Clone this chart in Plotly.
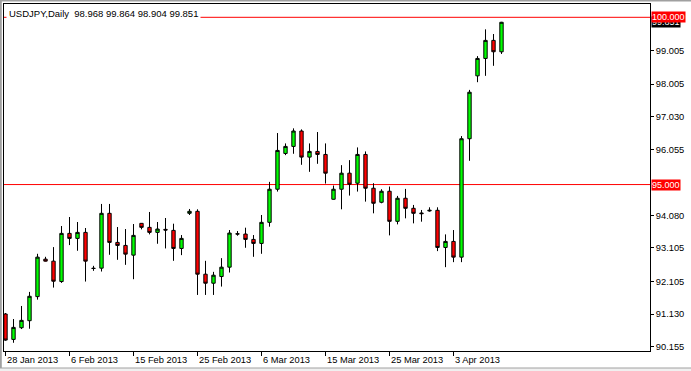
import plotly.graph_objects as go

# ---- data ----
opens = [91.13, 90.37, 90.72, 90.93, 91.65, 92.77, 92.71, 92.10, 93.54, 93.39, 93.57, 92.50, 92.50, 94.14, 93.27, 93.18,
         92.89, 93.84, 93.72, 93.57, 93.66, 93.63, 93.09, 94.14, 94.20, 92.32, 92.05, 92.25, 92.53, 93.53, 93.52, 93.36,
         93.24, 93.87, 94.86, 95.93, 96.14, 96.60, 95.82, 95.99, 95.90, 94.56, 94.86, 95.34, 95.04, 95.90, 94.89, 94.47,
         94.80, 93.90, 94.59, 94.29, 94.15, 94.21, 94.23, 93.12, 93.30, 92.83, 96.37, 98.25, 98.77, 99.31, 98.968]
highs = [91.16, 90.98, 91.37, 91.79, 92.93, 92.84, 93.13, 93.76, 94.03, 93.88, 93.70, 92.57, 94.42, 94.42, 93.73, 93.67,
         93.82, 93.85, 94.18, 93.88, 94.00, 93.83, 93.49, 94.27, 94.26, 92.72, 92.39, 92.80, 93.64, 93.61, 93.71, 93.49,
         94.09, 95.08, 96.54, 96.23, 96.68, 96.65, 96.23, 96.57, 96.23, 94.97, 95.58, 95.73, 96.11, 95.99, 95.04, 94.86,
         94.94, 94.66, 94.87, 94.39, 94.24, 94.32, 94.32, 93.51, 93.64, 96.45, 97.83, 98.84, 99.64, 99.50, 99.864]
lows = [90.33, 90.27, 90.68, 90.69, 91.56, 92.70, 91.92, 92.06, 93.19, 93.02, 92.10, 92.42, 92.40, 92.90, 92.75, 92.60,
        92.17, 93.66, 93.51, 93.23, 93.09, 92.72, 92.89, 94.09, 91.70, 91.70, 91.70, 91.95, 92.37, 93.47, 93.11, 92.84,
        92.93, 93.74, 94.79, 95.88, 95.92, 95.59, 95.38, 95.62, 95.03, 94.55, 94.26, 94.67, 94.79, 94.49, 94.14, 94.44,
        93.48, 93.81, 93.99, 93.84, 93.89, 94.19, 93.01, 92.53, 92.68, 92.68, 95.71, 98.06, 98.25, 98.55, 98.904]
closes = [90.35, 90.73, 90.94, 91.66, 92.83, 92.71, 92.11, 93.54, 93.39, 93.57, 92.71, 92.49, 94.14, 93.27, 93.18, 92.92,
          93.48, 93.72, 93.57, 93.67, 93.64, 93.09, 93.39, 94.20, 92.32, 92.05, 92.29, 92.53, 93.55, 93.52, 93.36, 93.24,
          93.87, 94.86, 96.02, 96.14, 96.60, 95.82, 95.99, 95.90, 95.34, 94.86, 95.34, 95.01, 95.90, 94.89, 94.44, 94.80,
          93.90, 94.59, 94.29, 94.14, 94.13, 94.23, 93.12, 93.30, 92.83, 96.37, 97.76, 98.77, 99.31, 98.97, 99.851]
bar_index = list(range(len(opens)))

date_labels = ["28 Jan 2013", "6 Feb 2013", "15 Feb 2013", "25 Feb 2013",
               "6 Mar 2013", "15 Mar 2013", "25 Mar 2013", "3 Apr 2013"]
date_positions = [0, 8, 16, 24, 32, 40, 48, 56]

price_ticks = [99.005, 98.005, 97.030, 96.055, 94.080, 93.105, 92.105, 91.130, 90.155]
price_tick_text = ["99.005", "98.005", "97.030", "96.055", "94.080", "93.105", "92.105", "91.130", "90.155"]

hlines = [100.000, 95.000]
bid_price = 99.851
title_text = "USDJPY,Daily  98.968 99.864 98.904 99.851"

# ---- geometry ----
W, H = 691, 371
ML, MR, MT, MB = 4, 41, 4, 20
PW, PH = W - ML - MR, H - MT - MB


def px_x(p):
    return (p - ML) / PW


def px_y(p):
    return (H - MB - p) / PH


FONT = "Liberation Sans, Arial, sans-serif"

fig = go.Figure()
fig.add_trace(go.Candlestick(
    x=bar_index, open=opens, high=highs, low=lows, close=closes,
    increasing=dict(fillcolor="#00ff00", line=dict(color="black", width=1)),
    decreasing=dict(fillcolor="#ff0000", line=dict(color="black", width=1)),
    whiskerwidth=0, hoverinfo="skip", showlegend=False,
))

shapes = []
for v in hlines:
    shapes.append(dict(type="line", xref="paper", yref="y", x0=0, x1=1, y0=v, y1=v,
                       line=dict(color="#ff0000", width=1), layer="below"))
# window chrome
shapes.append(dict(type="line", xref="paper", yref="paper", x0=px_x(0), x1=px_x(W), y0=px_y(0.5), y1=px_y(0.5),
                   line=dict(color="#a0a0a0", width=2)))
shapes.append(dict(type="line", xref="paper", yref="paper", x0=px_x(0.8), x1=px_x(0.8), y0=px_y(0), y1=px_y(H),
                   line=dict(color="#a0a0a0", width=2)))
shapes.append(dict(type="rect", xref="paper", yref="paper", x0=px_x(0), x1=px_x(W), y0=px_y(368), y1=px_y(H + 1),
                   line=dict(width=0), fillcolor="#f0f0f0"))
shapes.append(dict(type="line", xref="paper", yref="paper", x0=px_x(0), x1=px_x(W), y0=px_y(368), y1=px_y(368),
                   line=dict(color="#a0a0a0", width=1)))

annotations = []
for lab, pos in zip(date_labels, date_positions):
    annotations.append(dict(x=pos, xref="x", y=px_y(360), yref="paper", text=lab, showarrow=False,
                            xanchor="left", yanchor="middle", xshift=-1,
                            font=dict(family=FONT, size=9.3, color="black")))
annotations.append(dict(x=px_x(651), xref="paper", y=bid_price, yref="y", text="99.851", showarrow=False,
                        xanchor="left", yanchor="middle", bgcolor="black", borderpad=0,
                        font=dict(family=FONT, size=9, color="white")))
for v in hlines:
    annotations.append(dict(x=px_x(651), xref="paper", y=v, yref="y", text=f"{v:.3f}", showarrow=False,
                            xanchor="left", yanchor="middle", bgcolor="#ff0000", borderpad=0,
                            font=dict(family=FONT, size=9, color="white")))
annotations.append(dict(x=px_x(6), xref="paper", y=px_y(13), yref="paper", text=title_text, showarrow=False,
                        xanchor="left", yanchor="middle", bgcolor="white", borderpad=2,
                        font=dict(family=FONT, size=9.5, color="black")))

fig.update_layout(
    width=W, height=H,
    margin=dict(l=ML, r=MR, t=MT, b=MB, pad=0, autoexpand=False),
    paper_bgcolor="white", plot_bgcolor="white",
    boxgap=0.4,
    shapes=shapes, annotations=annotations,
    font=dict(family=FONT, size=9, color="black"),
    xaxis=dict(range=[(ML - 5.5) / 8, (W - MR - 5.5) / 8], rangeslider=dict(visible=False), automargin=False,
               showgrid=False, zeroline=False, showline=True, mirror=True, linecolor="black", linewidth=1,
               tickmode="array", tickvals=date_positions, ticks="outside", ticklen=4, tickcolor="black",
               showticklabels=False, fixedrange=True),
    yaxis=dict(range=[100 - (H - MB - 17.3) / 33.45, 100 + (17.3 - MT) / 33.45], side="right", automargin=False,
               showgrid=False, zeroline=False, showline=True, mirror=True, linecolor="black", linewidth=1,
               tickmode="array", tickvals=price_ticks, ticktext=price_tick_text,
               ticks="outside", ticklen=3, tickcolor="black",
               tickfont=dict(family=FONT, size=9.3, color="black"), fixedrange=True),
)

fig.write_html("out.html", config={"displayModeBar": False},
               post_script="document.body.style.margin='0';document.body.style.padding='0';"
                           "document.body.style.overflow='hidden';")
